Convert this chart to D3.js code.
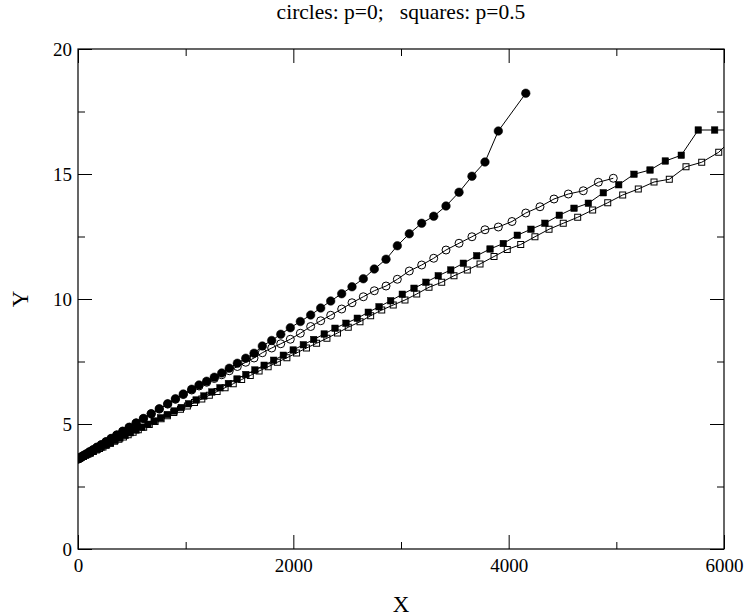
<!DOCTYPE html>
<html>
<head>
<meta charset="utf-8">
<script src="https://cdn.jsdelivr.net/npm/d3@7"></script>
<style>
  body { margin: 0; background: #fff; }
  svg { display: block; }
  text { font-family: "Liberation Serif", "Times New Roman", serif; fill: #000; }
</style>
</head>
<body>
<svg id="chart" width="747" height="616"></svg>
<script>
// ---- Dados
const xTicks = [0, 2000, 4000, 6000];
const yTicks = [0, 5, 10, 15, 20];

// circulos cheios
const fcX = [0, 8, 20, 36, 56, 80, 108, 140, 176, 216, 260, 308, 360, 416, 476, 540, 608, 680, 755, 833, 905,
  978, 1056, 1124, 1195, 1266, 1335, 1405, 1480, 1558, 1635, 1712, 1799, 1883, 1972, 2065, 2161, 2254, 2347,
  2449, 2545, 2650, 2752, 2861, 2966, 3077, 3192, 3304, 3418, 3539, 3659, 3780, 3904, 4159];
const fcY = [3.60, 3.62, 3.65, 3.70, 3.75, 3.81, 3.89, 3.97, 4.07, 4.17, 4.29, 4.42, 4.56, 4.71, 4.87, 5.04, 5.22, 5.41, 5.61, 5.81, 6.01,
  6.20, 6.39, 6.56, 6.71, 6.87, 7.04, 7.23, 7.43, 7.63, 7.83, 8.12, 8.34, 8.59, 8.85, 9.10, 9.36, 9.64, 9.92,
  10.21, 10.49, 10.81, 11.20, 11.59, 12.13, 12.61, 13.03, 13.31, 13.72, 14.27, 14.91, 15.48, 16.72, 18.23];

// circulos abertos
const ocX = [0, 8, 20, 36, 56, 80, 108, 140, 176, 216, 260, 308, 360, 416, 476, 540, 608, 680, 755, 833, 905,
  978, 1056, 1124, 1195, 1266, 1335, 1405, 1480, 1558, 1635, 1712, 1799, 1883, 1972, 2065, 2161, 2254, 2347,
  2449, 2545, 2650, 2752, 2861, 2966, 3077, 3192, 3304, 3418, 3539, 3659, 3780, 3904, 4031, 4159, 4291, 4421,
  4554, 4693, 4833, 4972];
const ocY = [3.60, 3.62, 3.65, 3.70, 3.75, 3.81, 3.89, 3.97, 4.07, 4.17, 4.29, 4.42, 4.56, 4.71, 4.87, 5.04, 5.22, 5.41, 5.60, 5.80, 5.99,
  6.18, 6.36, 6.52, 6.67, 6.82, 6.97, 7.13, 7.30, 7.47, 7.64, 7.85, 8.04, 8.21, 8.39, 8.63, 8.90, 9.13, 9.35,
  9.60, 9.85, 10.09, 10.33, 10.52, 10.79, 11.12, 11.36, 11.63, 11.96, 12.23, 12.49, 12.77, 12.88, 13.10, 13.44, 13.69, 14.00,
  14.20, 14.33, 14.67, 14.83];

// quadrados cheios
const fsX = [0, 22, 48, 77, 109, 143, 179, 217, 257, 299, 343, 389, 437, 487, 539, 593, 649, 707, 767, 829, 893, 959,
  1027, 1097, 1169, 1243, 1319, 1397, 1477, 1559, 1643, 1729, 1817, 1907, 1999, 2093, 2189, 2287, 2387, 2489,
  2594, 2696, 2796, 2904, 3012, 3121, 3232, 3346, 3462, 3579, 3703, 3827, 3950, 4080, 4207, 4337, 4470, 4607,
  4740, 4879, 5022, 5164, 5313, 5455, 5603, 5761, 5913, 6060];
const fsY = [3.60, 3.65, 3.70, 3.77, 3.83, 3.91, 3.98, 4.07, 4.15, 4.24, 4.34, 4.44, 4.54, 4.65, 4.76, 4.87, 4.99, 5.12, 5.25, 5.38, 5.52, 5.66,
  5.81, 5.96, 6.12, 6.28, 6.45, 6.62, 6.80, 6.98, 7.16, 7.35, 7.55, 7.75, 7.96, 8.17, 8.38, 8.60, 8.83, 9.03,
  9.23, 9.47, 9.69, 9.93, 10.19, 10.43, 10.67, 10.93, 11.16, 11.43, 11.73, 12.00, 12.22, 12.55, 12.79, 13.03, 13.35, 13.63,
  13.83, 14.25, 14.57, 14.99, 15.16, 15.52, 15.75, 16.76, 16.76, 16.76];

// quadrados abertos
const osX = [0, 16, 32, 50, 70, 92, 116, 142, 170, 200, 232, 266, 302, 340, 380, 422, 466, 512, 560, 610, 662, 716,
  772, 830, 890, 952, 1016, 1082, 1150, 1220, 1292, 1366, 1442, 1520, 1600, 1682, 1766, 1852, 1940, 2030, 2122,
  2216, 2312, 2410, 2510, 2619, 2718, 2821, 2928, 3037, 3146, 3260, 3378, 3492, 3616, 3734, 3864, 3987, 4112,
  4244, 4375, 4507, 4641, 4780, 4920, 5059, 5204, 5350, 5492, 5647, 5793, 5951, 6110];
const osY = [3.60, 3.63, 3.67, 3.70, 3.75, 3.79, 3.84, 3.90, 3.96, 4.02, 4.08, 4.16, 4.23, 4.31, 4.39, 4.48, 4.57, 4.67, 4.77, 4.87, 4.98, 5.10,
  5.21, 5.33, 5.46, 5.59, 5.72, 5.86, 6.00, 6.15, 6.30, 6.45, 6.61, 6.78, 6.94, 7.12, 7.29, 7.47, 7.65, 7.84, 8.04,
  8.23, 8.43, 8.64, 8.87, 9.09, 9.33, 9.56, 9.76, 9.96, 10.20, 10.47, 10.67, 10.93, 11.16, 11.40, 11.70, 11.98, 12.18,
  12.49, 12.79, 13.03, 13.27, 13.56, 13.85, 14.16, 14.40, 14.68, 14.79, 15.29, 15.47, 15.87, 16.55];

const series = [
  { xs: osX, ys: osY, shape: 'square', filled: false },
  { xs: fsX, ys: fsY, shape: 'square', filled: true },
  { xs: ocX, ys: ocY, shape: 'circle', filled: false },
  { xs: fcX, ys: fcY, shape: 'circle', filled: true }
];

// ---- Layout
const margens = { left: 78, right: 23, top: 49, bottom: 67 };
const svg = d3.select('#chart');
const width = +svg.attr('width') - margens.left - margens.right;
const height = +svg.attr('height') - margens.top - margens.bottom;

const mapX = d3.scaleLinear().domain([0, 6000]).range([0, width]);
const mapY = d3.scaleLinear().domain([0, 20]).range([height, 0]);

const g = svg.append('g').attr('transform', `translate(${margens.left}, ${margens.top})`);

g.append('defs').append('clipPath').attr('id', 'plotClip')
  .append('rect').attr('width', width).attr('height', height);

// ---- Eixos (ticks para dentro, nos quatro lados)
const xMinor = d3.range(0, 6001, 1000).filter(v => !xTicks.includes(v));
const yMinor = d3.range(0, 20.01, 2.5).filter(v => !yTicks.includes(v));

function styleAxis(sel) {
  sel.select('.domain').remove();
  sel.selectAll('.tick line').attr('stroke', '#000').attr('stroke-width', 1);
  sel.selectAll('text').style('font-size', '19px').style('font-family', '"Liberation Serif", serif');
}

g.append('g').attr('transform', `translate(0, ${height})`)
  .call(d3.axisBottom(mapX).tickValues(xTicks).tickSize(-14).tickPadding(4).tickFormat(d3.format('d')))
  .call(styleAxis)
  .selectAll('text').attr('dy', '1.0em');
g.append('g').attr('transform', `translate(0, ${height})`)
  .call(d3.axisBottom(mapX).tickValues(xMinor).tickSize(-7).tickFormat(''))
  .call(styleAxis);
g.append('g')
  .call(d3.axisTop(mapX).tickValues(xTicks).tickSize(-14).tickFormat(''))
  .call(styleAxis);
g.append('g')
  .call(d3.axisTop(mapX).tickValues(xMinor).tickSize(-7).tickFormat(''))
  .call(styleAxis);

g.append('g')
  .call(d3.axisLeft(mapY).tickValues(yTicks).tickSize(-14).tickPadding(5).tickFormat(d3.format('d')))
  .call(styleAxis)
  .selectAll('text').attr('x', -6);
g.append('g')
  .call(d3.axisLeft(mapY).tickValues(yMinor).tickSize(-7).tickFormat(''))
  .call(styleAxis);
g.append('g').attr('transform', `translate(${width}, 0)`)
  .call(d3.axisRight(mapY).tickValues(yTicks).tickSize(-14).tickFormat(''))
  .call(styleAxis);
g.append('g').attr('transform', `translate(${width}, 0)`)
  .call(d3.axisRight(mapY).tickValues(yMinor).tickSize(-7).tickFormat(''))
  .call(styleAxis);

// moldura
g.append('rect')
  .attr('width', width).attr('height', height)
  .attr('fill', 'none').attr('stroke', '#000').attr('stroke-width', 1.2);

// ---- Series
const plot = g.append('g').attr('clip-path', 'url(#plotClip)');
const line = d3.line().x(d => mapX(d[0])).y(d => mapY(d[1]));

series.forEach(s => {
  const pts = s.xs.map((x, i) => [x, s.ys[i]]);
  plot.append('path')
    .datum(pts)
    .attr('d', line)
    .attr('fill', 'none')
    .attr('stroke', '#000')
    .attr('stroke-width', 1);

  const marks = plot.append('g');
  if (s.shape === 'circle') {
    marks.selectAll('circle').data(pts).join('circle')
      .attr('cx', d => mapX(d[0]))
      .attr('cy', d => mapY(d[1]))
      .attr('r', s.filled ? 4.3 : 4)
      .attr('fill', s.filled ? '#000' : 'none')
      .attr('stroke', '#000')
      .attr('stroke-width', s.filled ? 0.5 : 1);
  } else {
    const side = s.filled ? 6.5 : 6;
    marks.selectAll('rect').data(pts).join('rect')
      .attr('x', d => mapX(d[0]) - side / 2)
      .attr('y', d => mapY(d[1]) - side / 2)
      .attr('width', side)
      .attr('height', side)
      .attr('fill', s.filled ? '#000' : 'none')
      .attr('stroke', '#000')
      .attr('stroke-width', s.filled ? 0.5 : 1);
  }
});

// ---- Textos
svg.append('text')
  .attr('x', 401).attr('y', 19)
  .attr('text-anchor', 'middle')
  .style('font-size', '21.5px')
  .style('white-space', 'pre')
  .text('circles: p=0;   squares: p=0.5');

svg.append('text')
  .attr('x', margens.left + width / 2).attr('y', 612)
  .attr('text-anchor', 'middle')
  .style('font-size', '23px')
  .text('X');

svg.append('text')
  .attr('transform', `translate(28, ${margens.top + height / 2}) rotate(-90)`)
  .attr('text-anchor', 'middle')
  .style('font-size', '23px')
  .text('Y');
</script>
</body>
</html>
